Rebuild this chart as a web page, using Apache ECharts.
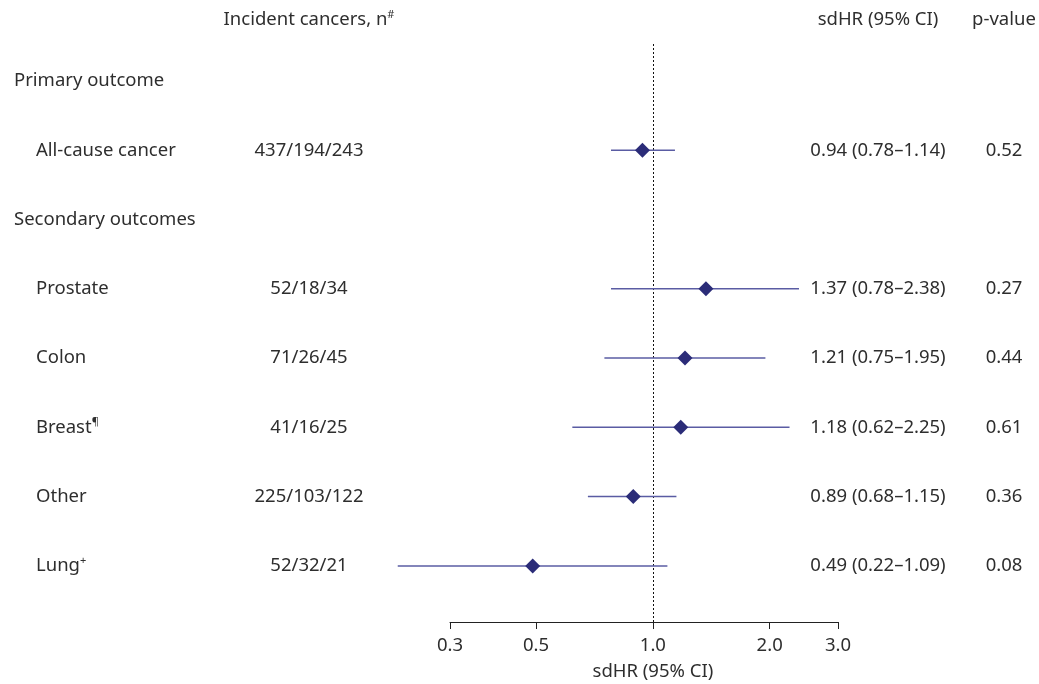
<!DOCTYPE html>
<html>
<head>
<meta charset="utf-8">
<script src="https://cdn.jsdelivr.net/npm/echarts@6/dist/echarts.min.js"></script>
<style>
html,body{margin:0;padding:0;background:#fff;}
#chart{width:1039px;height:684px;}
</style>
</head>
<body>
<div id="chart"></div>
<script>
// ---- data ----
const rowLabels = ['Primary outcome', 'All-cause cancer', 'Secondary outcomes', 'Prostate', 'Colon', 'Breast', 'Other', 'Lung'];
const rowSup = ['', '', '', '', '', '¶', '', '+'];
const rowIsSection = [true, false, true, false, false, false, false, false];
const nCounts = ['', '437/194/243', '', '52/18/34', '71/26/45', '41/16/25', '225/103/122', '52/32/21'];
const hrValues = [null, 0.94, null, 1.37, 1.21, 1.18, 0.89, 0.49];
const ciLower = [null, 0.78, null, 0.78, 0.75, 0.62, 0.68, 0.22];
const ciUpper = [null, 1.14, null, 2.38, 1.95, 2.25, 1.15, 1.09];
const pValues = ['', '0.52', '', '0.27', '0.44', '0.61', '0.36', '0.08'];
const tickValues = [0.3, 0.5, 1.0, 2.0, 3.0];
const headers = { n: 'Incident cancers, n', nSup: '#', hr: 'sdHR (95% CI)', p: 'p-value' };
const axisTitle = 'sdHR (95% CI)';

// ---- styles ----
const FONT = 'Noto Sans';
const TEXT_COLOR = '#2e2e2e';
const FS = 18.5;

const chart = echarts.init(document.getElementById('chart'), null, { renderer: 'canvas' });

const ciData = [], pointData = [];
rowLabels.forEach((_, i) => {
  if (hrValues[i] != null) {
    ciData.push([ciLower[i], ciUpper[i], i]);
    pointData.push([hrValues[i], i]);
  }
});

const option = {
  animation: false,
  backgroundColor: '#fff',
  textStyle: { fontFamily: FONT },
  grid: { left: 450, right: 201, top: 44, bottom: 62, containLabel: false },
  xAxis: {
    type: 'log',
    logBase: 10,
    min: 0.3,
    max: 3.0,
    splitLine: { show: false },
    axisLine: { show: true, onZero: false, lineStyle: { color: '#222', width: 1 } },
    axisTick: { show: true, length: 7, lineStyle: { color: '#222', width: 1 }, customValues: tickValues },
    axisLabel: {
      customValues: tickValues,
      formatter: v => Number(v).toFixed(1),
      fontFamily: FONT, fontSize: FS, color: TEXT_COLOR, margin: 14
    },
    minorTick: { show: false }
  },
  yAxis: {
    type: 'value',
    inverse: true,
    min: -0.534,
    max: 7.81,
    show: false
  },
  series: [
    {
      type: 'custom',
      clip: false,
      silent: true,
      encode: { x: [0, 1], y: 2 },
      data: ciData,
      renderItem: (params, api) => {
        const p1 = api.coord([api.value(0), api.value(2)]);
        const p2 = api.coord([api.value(1), api.value(2)]);
        return {
          type: 'line',
          shape: { x1: p1[0], y1: p1[1], x2: p2[0], y2: p2[1] },
          style: { stroke: '#5a5ca3', lineWidth: 1.5 }
        };
      },
      z: 2
    },
    {
      type: 'scatter',
      symbol: 'diamond',
      symbolSize: 15,
      clip: false,
      silent: true,
      itemStyle: { color: '#2b2c78', opacity: 1 },
      data: pointData,
      z: 3,
      markLine: {
        silent: true,
        symbol: 'none',
        label: { show: false },
        lineStyle: { color: '#111', width: 1, type: [2, 2] },
        data: [{ xAxis: 1.0 }],
        z: 1
      }
    }
  ]
};
chart.setOption(option);

// ---- text columns ----
const X_SECTION = 14, X_ITEM = 36, X_N = 309, X_HR = 878, X_P = 1004;
const rowY = i => chart.convertToPixel({ yAxisIndex: 0 }, i);
const xOne = chart.convertToPixel({ xAxisIndex: 0 }, 1.0);
const rich = {
  m: { fontSize: FS, fontFamily: FONT, color: TEXT_COLOR, lineHeight: 22 },
  s: { fontSize: 11, fontFamily: FONT, color: TEXT_COLOR, lineHeight: 11, verticalAlign: 'top' }
};
function txt(x, y, text, align) {
  return {
    type: 'text', x: x, y: y, silent: true,
    style: { text: text, rich: rich, align: align, verticalAlign: 'middle', fontSize: FS, fontFamily: FONT, fill: TEXT_COLOR }
  };
}
const els = [];
const HEADER_Y = 20;
els.push(txt(X_N, HEADER_Y, '{m|' + headers.n + '}{s|' + headers.nSup + '}', 'center'));
els.push(txt(X_HR, HEADER_Y, '{m|' + headers.hr + '}', 'center'));
els.push(txt(X_P, HEADER_Y, '{m|' + headers.p + '}', 'center'));
rowLabels.forEach((lab, i) => {
  const y = rowY(i);
  const t = '{m|' + lab + '}' + (rowSup[i] ? '{s|' + rowSup[i] + '}' : '');
  els.push(txt(rowIsSection[i] ? X_SECTION : X_ITEM, y, t, 'left'));
  if (nCounts[i]) els.push(txt(X_N, y, '{m|' + nCounts[i] + '}', 'center'));
  if (hrValues[i] != null) {
    const s = hrValues[i].toFixed(2) + ' (' + ciLower[i].toFixed(2) + '–' + ciUpper[i].toFixed(2) + ')';
    els.push(txt(X_HR, y, '{m|' + s + '}', 'center'));
  }
  if (pValues[i]) els.push(txt(X_P, y, '{m|' + pValues[i] + '}', 'center'));
});
els.push(txt(xOne, 672, '{m|' + axisTitle + '}', 'center'));
chart.setOption({ graphic: { elements: els } });
</script>
</body>
</html>
